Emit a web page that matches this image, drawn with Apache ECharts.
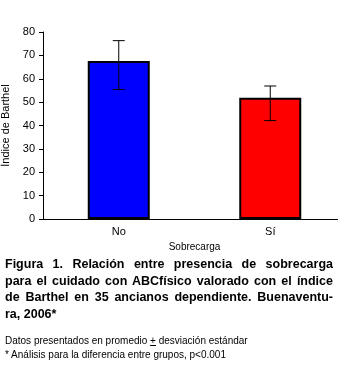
<!DOCTYPE html>
<html>
<head>
<meta charset="utf-8">
<script src="https://cdn.jsdelivr.net/npm/echarts@6/dist/echarts.min.js"></script>
<style>
  body { margin: 0; background: #fff; }
  #wrap { position: relative; width: 338px; height: 365px; overflow: hidden; }
  #chart { position: absolute; left: 0; top: 0; width: 338px; height: 365px; }
  .cap { position: absolute; left: 5px; width: 328px; top: 256px; font: bold 12.5px "Liberation Sans", Arial, sans-serif;
         line-height: 16.5px; color: #000; }
  .cap div { text-align: justify; text-align-last: justify; white-space: nowrap; }
  .cap div.last { text-align-last: left; }
  .note { position: absolute; left: 5px; top: 334px; font: 10px "Liberation Sans", Arial, sans-serif; line-height: 13.5px; color: #000; }
</style>
</head>
<body>
<div id="wrap">
  <div id="chart"></div>
  <div class="cap">
    <div>Figura 1. Relación entre presencia de sobrecarga</div>
    <div>para el cuidado con ABCfísico valorado con el índice</div>
    <div>de Barthel en 35 ancianos dependiente. Buenaventu-</div>
    <div class="last">ra, 2006*</div>
  </div>
  <div class="note">Datos presentados en promedio <u>+</u> desviación estándar<br>* Análisis para la diferencia entre grupos, p&lt;0.001</div>
</div>
<script>
  var categorias = ['No', 'Sí'];
  var medias = [67.6, 51.9];
  var limInf = [55.4, 42.1];
  var limSup = [76.3, 56.9];
  var colores = ['#0000ff', '#ff0000'];

  var chart = echarts.init(document.getElementById('chart'));

  // datos de las barras de error
  var errData = categorias.map(function (c, i) {
    return [i, limInf[i], limSup[i]];
  });

  var option = {
    animation: false,
    grid: { left: 43, top: 32, width: 303, height: 187, outerBoundsMode: 'none', containLabel: false },
    xAxis: {
      type: 'category',
      data: categorias,
      name: 'Sobrecarga',
      nameLocation: 'middle',
      nameGap: 20,
      nameTextStyle: { color: '#000', fontSize: 10, fontFamily: 'Liberation Sans' },
      axisLine: { lineStyle: { color: '#000', width: 1 } },
      axisTick: { length: 4, lineStyle: { color: '#000' } },
      axisLabel: { color: '#000', fontSize: 11, fontFamily: 'Liberation Sans', margin: 7 }
    },
    yAxis: {
      type: 'value',
      min: 0,
      max: 80,
      interval: 10,
      name: 'Índice de Barthel',
      nameLocation: 'middle',
      nameGap: 26,
      nameTextStyle: { color: '#000', fontSize: 11, fontFamily: 'Liberation Sans' },
      splitLine: { show: false },
      axisLine: { show: true, lineStyle: { color: '#000', width: 1 } },
      axisTick: { show: true, length: 4, lineStyle: { color: '#000' } },
      axisLabel: { color: '#000', fontSize: 11, fontFamily: 'Liberation Sans', margin: 8 }
    },
    series: [{
      type: 'bar',
      barWidth: 62,
      data: medias.map(function (v, i) {
        return { value: v, itemStyle: { color: colores[i] } };
      }),
      itemStyle: { borderColor: '#000', borderWidth: 2 }
    }, {
      type: 'custom',
      data: errData,
      z: 10,
      renderItem: function (params, api) {
        var x = api.value(0);
        var lo = api.coord([x, api.value(1)]);
        var hi = api.coord([x, api.value(2)]);
        var w = 6;
        var st = { stroke: '#000', lineWidth: 1 };
        return {
          type: 'group',
          children: [
            { type: 'line', shape: { x1: lo[0], y1: lo[1], x2: hi[0], y2: hi[1] }, style: st },
            { type: 'line', shape: { x1: lo[0] - w, y1: lo[1], x2: lo[0] + w, y2: lo[1] }, style: st },
            { type: 'line', shape: { x1: hi[0] - w, y1: hi[1], x2: hi[0] + w, y2: hi[1] }, style: st }
          ]
        };
      }
    }]
  };

  chart.setOption(option);
</script>
</body>
</html>
